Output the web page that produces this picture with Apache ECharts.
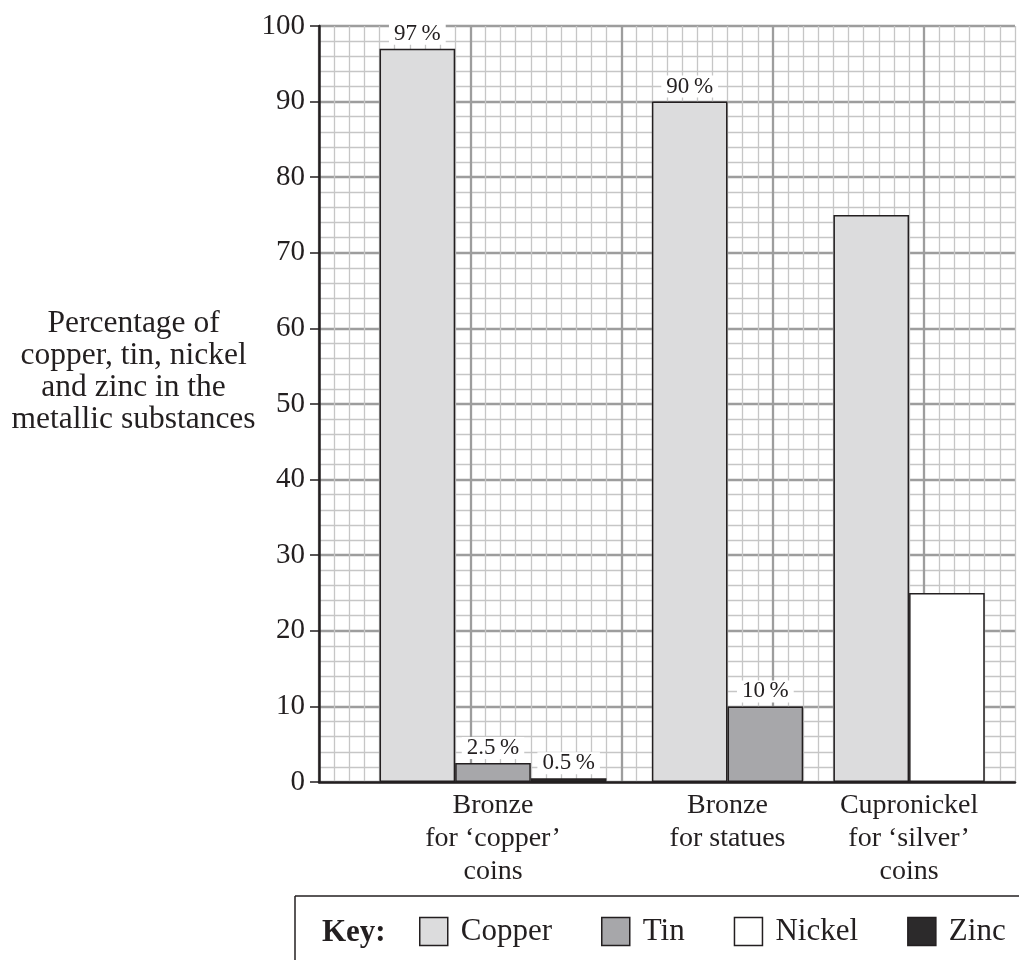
<!DOCTYPE html>
<html><head><meta charset="utf-8">
<script src="https://cdn.jsdelivr.net/npm/echarts@6/dist/echarts.min.js"></script>
<style>html,body{margin:0;padding:0;background:#fff}#chart{width:1019px;height:960px}</style>
</head><body><div id="chart"></div>
<script>
// ---------- DATA ----------
const categories = ['Bronze\nfor \u2018copper\u2019\ncoins', 'Bronze\nfor statues', 'Cupronickel\nfor \u2018silver\u2019\ncoins'];
const seriesNames = ['Copper', 'Tin', 'Nickel', 'Zinc'];
const copper = [97, 90, 75];
const tin = [2.5, 10, null];
const nickel = [null, null, 25];
const zinc = [0.5, null, null];
const valueLabelShown = [true, true, false];
const yAxisTitle = 'Percentage of\ncopper, tin, nickel\nand zinc in the\nmetallic substances';
const keyTitle = 'Key:';

// ---------- LAYOUT / STYLE ----------
const FONT = "'Liberation Serif', 'Times New Roman', serif";
const INK = '#231f20';
const GRID = {left: 319, top: 26, width: 696, height: 756};
const CELLS = 46;
const GROUP_START = [4, 22, 34];
const BAR_CELLS = 5;
const COLORS = {Copper: '#dcdcdd', Tin: '#a7a7aa', Nickel: '#ffffff', Zinc: '#2c2a2b'};
const MAJOR = '#9d9d9d', MINOR = '#c6c6c6';

const values = {Copper: copper, Tin: tin, Nickel: nickel, Zinc: zinc};
const seriesData = {Copper: [], Tin: [], Nickel: [], Zinc: []};
const labelPos = [];
categories.forEach((c, ci) => {
  let slot = 0;
  seriesNames.forEach(name => {
    const v = values[name][ci];
    if (v == null) return;
    const x = GROUP_START[ci] + slot * BAR_CELLS + BAR_CELLS / 2;
    seriesData[name].push({value: [x, v], label: {show: valueLabelShown[ci]}});
    slot++;
  });
  labelPos.push(GROUP_START[ci] + slot * BAR_CELLS / 2);
});
const barWidth = GRID.width / CELLS * BAR_CELLS;

const minorColors = [];
for (let i = 0; i < 10; i++) minorColors.push(i === 0 ? 'rgba(0,0,0,0)' : MINOR);

const chart = echarts.init(document.getElementById('chart'), null, {renderer: 'canvas'});
chart.setOption({
  animation: false,
  backgroundColor: '#fff',
  textStyle: {fontFamily: FONT, color: INK},
  title: {
    text: keyTitle, left: 317, top: 912,
    textStyle: {fontFamily: FONT, fontWeight: 'bold', fontSize: 31, color: INK, lineHeight: 32}
  },
  legend: {
    left: 414, top: 911, itemWidth: 28, itemHeight: 28, itemGap: 49, icon: 'rect',
    data: seriesNames,
    itemStyle: {borderColor: INK, borderWidth: 1.5},
    textStyle: {fontFamily: FONT, fontSize: 31, color: INK, padding: [0, 0, 0, 8]}
  },
  graphic: [
    {type: 'line', shape: {x1: 295, y1: 896, x2: 1019, y2: 896}, style: {stroke: INK, lineWidth: 1.5}},
    {type: 'line', shape: {x1: 295, y1: 896, x2: 295, y2: 960}, style: {stroke: INK, lineWidth: 1.5}}
  ],
  grid: GRID,
  xAxis: [{
    type: 'value', min: 0, max: CELLS, interval: 1, position: 'bottom',
    axisLine: {show: true, onZero: false, lineStyle: {color: INK, width: 2.5}},
    axisTick: {show: false},
    splitLine: {show: true, lineStyle: {color: minorColors, width: 1.3}},
    axisLabel: {
      show: true, customValues: labelPos, margin: 7,
      fontFamily: FONT, fontSize: 28, lineHeight: 33, color: INK,
      formatter: v => { const i = labelPos.findIndex(p => Math.abs(p - v) < 1e-6); return i >= 0 ? categories[i] : ''; }
    }
  }, {
    type: 'value', min: 0, max: CELLS, interval: 10, position: 'bottom',
    axisLine: {show: false}, axisTick: {show: false}, axisLabel: {show: false},
    splitLine: {show: true, showMaxLine: false, lineStyle: {color: MAJOR, width: 2.3}}
  }],
  yAxis: {
    type: 'value', min: 0, max: 100, interval: 10,
    name: yAxisTitle + '\n\n', nameLocation: 'middle', nameRotate: 0, nameGap: 184,
    nameTextStyle: {fontFamily: FONT, fontSize: 31.5, lineHeight: 32, color: INK, align: 'center', verticalAlign: 'middle'},
    axisLine: {show: true, lineStyle: {color: INK, width: 2.5}},
    axisTick: {show: true, length: 9, lineStyle: {color: INK, width: 1.5}},
    axisLabel: {fontFamily: FONT, fontSize: 29, color: INK, margin: 14},
    splitLine: {show: true, lineStyle: {color: MAJOR, width: 2.3}},
    minorTick: {show: false, splitNumber: 5},
    minorSplitLine: {show: true, lineStyle: {color: MINOR, width: 1.3}}
  },
  series: seriesNames.map(name => ({
    type: 'bar', name: name, xAxisIndex: 0, yAxisIndex: 0,
    data: seriesData[name], barWidth: barWidth, barGap: '-100%',
    itemStyle: {color: COLORS[name], borderColor: INK, borderWidth: 1.5},
    label: {
      show: false, position: 'top', distance: 4,
      formatter: p => p.value[1] + '\u2009%',
      backgroundColor: '#fff', padding: [1, 5, 1, 5],
      fontFamily: FONT, fontSize: 23, lineHeight: 20, color: INK
    },
    emphasis: {disabled: true}
  }))
});
</script></body></html>
